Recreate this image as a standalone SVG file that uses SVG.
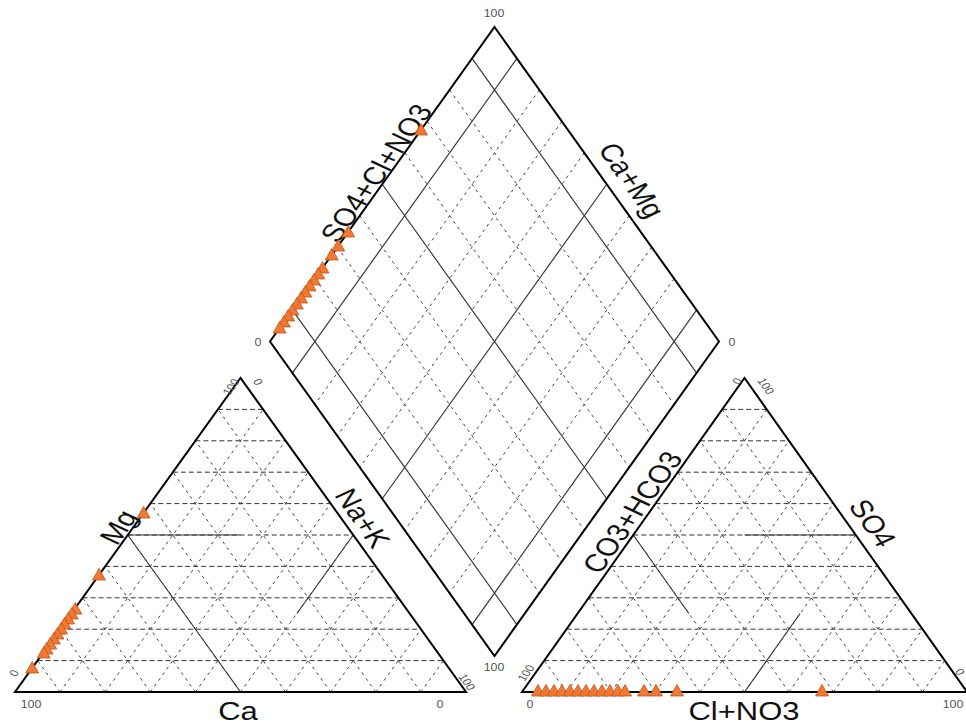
<svg xmlns="http://www.w3.org/2000/svg" width="966" height="724" viewBox="0 0 966 724">
<style>
.frame{fill:none;stroke:#000;stroke-width:2;stroke-linejoin:miter}
.gh{fill:none;stroke:#333;stroke-width:1;stroke-dasharray:5 3}
.gd{fill:none;stroke:#444;stroke-width:1;stroke-dasharray:3 4}
.sol{fill:none;stroke:#3a3a3a;stroke-width:1.2}
.lab{font-family:"Liberation Sans",Arial,sans-serif;font-size:25px;fill:#111;text-anchor:middle}
.num{font-family:"Liberation Sans",Arial,sans-serif;font-size:10px;fill:#555;text-anchor:middle}
.pt{fill:#F07832;stroke:#C0541A;stroke-width:0.8}
</style>
<defs>
<path id="m" d="M-6.5,5L6.5,5L0,-6.5Z"/>
</defs>
<rect width="966" height="724" fill="#fff"/>

<g id="cation-triangle">
<path class="gh" d="M37.55,660.6H443.45M60.1,629.2H420.9M82.65,597.8H398.35M105.2,566.4H375.8M127.75,535H353.25M150.3,503.6H330.7M172.85,472.2H308.15M195.4,440.8H285.6M217.95,409.4H263.05"/>
<path class="gd" d="M60.1,692L263.05,409.4M105.2,692L285.6,440.8M150.3,692L308.15,472.2M195.4,692L330.7,503.6M240.5,692L353.25,535M285.6,692L375.8,566.4M330.7,692L398.35,597.8M375.8,692L420.9,629.2M420.9,692L443.45,660.6"/>
<path class="gd" d="M60.1,692L37.55,660.6M105.2,692L60.1,629.2M150.3,692L82.65,597.8M195.4,692L105.2,566.4M240.5,692L127.75,535M285.6,692L150.3,503.6M330.7,692L172.85,472.2M375.8,692L195.4,440.8M420.9,692L217.95,409.4"/>
<path class="sol" d="M127.75,535H240.5M127.75,535L240.5,692M353.25,535L296.9,613.5"/>
<path class="frame" d="M15,692L466,692L240.5,378Z"/>
</g>

<g id="anion-triangle">
<path class="gh" d="M544.25,660.6H944.75M566.5,629.2H922.5M588.75,597.8H900.25M611,566.4H878M633.25,535H855.75M655.5,503.6H833.5M677.75,472.2H811.25M700,440.8H789M722.25,409.4H766.75"/>
<path class="gd" d="M566.5,692L766.75,409.4M611,692L789,440.8M655.5,692L811.25,472.2M700,692L833.5,503.6M744.5,692L855.75,535M789,692L878,566.4M833.5,692L900.25,597.8M878,692L922.5,629.2M922.5,692L944.75,660.6"/>
<path class="gd" d="M566.5,692L544.25,660.6M611,692L566.5,629.2M655.5,692L588.75,597.8M700,692L611,566.4M744.5,692L633.25,535M789,692L655.5,503.6M833.5,692L677.75,472.2M878,692L700,440.8M922.5,692L722.25,409.4"/>
<path class="sol" d="M744.5,535H855.75M633.25,535L688.9,613.5M744.5,692L800.1,613.5"/>
<path class="frame" d="M522,692L967,692L744.5,378Z"/>
</g>

<g id="diamond">
<path class="gd" d="M539.4,89.9L314.9,404.4M561.85,121.35L337.35,435.85M584.3,152.8L359.8,467.3M629.2,215.7L404.7,530.2M651.65,247.15L427.15,561.65M674.1,278.6L449.6,593.1"/>
<path class="gd" d="M449.6,89.9L674.1,404.4M427.15,121.35L651.65,435.85M404.7,152.8L629.2,467.3M359.8,215.7L584.3,530.2M337.35,247.15L561.85,561.65M314.9,278.6L539.4,593.1"/>
<path class="sol" d="M516.95,58.45L292.45,372.95M606.75,184.25L382.25,498.75M696.55,310.05L472.05,624.55M472.05,58.45L696.55,372.95M382.25,184.25L606.75,498.75M292.45,310.05L516.95,624.55"/>
<path class="frame" d="M494.5,27L719,341.5L494.5,656L270,341.5Z"/>
</g>

<g id="axis-labels">
<text class="lab" transform="translate(238,711) scale(1.24,1)" y="9">Ca</text>
<text class="lab" transform="translate(118,527) scale(1.24,1) rotate(-60)" y="9">Mg</text>
<text class="lab" transform="translate(363,518) scale(1.24,1) rotate(60)" y="9">Na+K</text>
<text class="lab" transform="translate(744,711) scale(1.24,1)" y="9">Cl+NO3</text>
<text class="lab" transform="translate(873,523) scale(1.24,1) rotate(60)" y="9">SO4</text>
<text class="lab" transform="translate(632,512) scale(1.24,1) rotate(-60)" y="9">CO3+HCO3</text>
<text class="lab" transform="translate(376,173) scale(1.24,1) rotate(-60)" y="9">SO4+Cl+NO3</text>
<text class="lab" transform="translate(632,180) scale(1.24,1) rotate(60)" y="9">Ca+Mg</text>
</g>

<g id="tick-labels">
<text class="num" transform="translate(494,13) scale(1.24,1)" y="3.5">100</text>
<text class="num" transform="translate(258,342) scale(1.24,1)" y="3.5">0</text>
<text class="num" transform="translate(732,342) scale(1.24,1)" y="3.5">0</text>
<text class="num" transform="translate(494,667) scale(1.24,1)" y="3.5">100</text>
<text class="num" transform="translate(231,387) scale(1.24,1) rotate(-60)" y="3.5">100</text>
<text class="num" transform="translate(258,382) scale(1.24,1) rotate(60)" y="3.5">0</text>
<text class="num" transform="translate(14,673) scale(1.24,1) rotate(-60)" y="3.5">0</text>
<text class="num" transform="translate(31,704) scale(1.24,1)" y="3.5">100</text>
<text class="num" transform="translate(440,704) scale(1.24,1)" y="3.5">0</text>
<text class="num" transform="translate(467,682) scale(1.24,1) rotate(60)" y="3.5">100</text>
<text class="num" transform="translate(737,381) scale(1.24,1) rotate(-60)" y="3.5">0</text>
<text class="num" transform="translate(766,386) scale(1.24,1) rotate(60)" y="3.5">100</text>
<text class="num" transform="translate(526,673) scale(1.24,1) rotate(-60)" y="3.5">100</text>
<text class="num" transform="translate(530,704) scale(1.24,1)" y="3.5">0</text>
<text class="num" transform="translate(953,704) scale(1.24,1)" y="3.5">100</text>
<text class="num" transform="translate(960,672) scale(1.24,1) rotate(60)" y="3.5">0</text>
</g>

<g id="samples">
<use href="#m" class="pt" x="143.6" y="513"/>
<use href="#m" class="pt" x="99" y="575"/>
<use href="#m" class="pt" x="75.3" y="609"/>
<use href="#m" class="pt" x="71.7" y="614"/>
<use href="#m" class="pt" x="68.1" y="619"/>
<use href="#m" class="pt" x="64.5" y="624"/>
<use href="#m" class="pt" x="61" y="629"/>
<use href="#m" class="pt" x="57.4" y="634"/>
<use href="#m" class="pt" x="53.8" y="639"/>
<use href="#m" class="pt" x="50.2" y="644"/>
<use href="#m" class="pt" x="46.6" y="649"/>
<use href="#m" class="pt" x="43.7" y="653"/>
<use href="#m" class="pt" x="32.2" y="668"/>

<use href="#m" class="pt" x="421" y="130"/>
<use href="#m" class="pt" x="348.2" y="232"/>
<use href="#m" class="pt" x="338.2" y="246"/>
<use href="#m" class="pt" x="331.7" y="255"/>
<use href="#m" class="pt" x="322.5" y="268"/>
<use href="#m" class="pt" x="318.2" y="274"/>
<use href="#m" class="pt" x="313.9" y="280"/>
<use href="#m" class="pt" x="309.6" y="286"/>
<use href="#m" class="pt" x="305.3" y="292"/>
<use href="#m" class="pt" x="301" y="298"/>
<use href="#m" class="pt" x="296.8" y="304"/>
<use href="#m" class="pt" x="292.5" y="310"/>
<use href="#m" class="pt" x="288.2" y="316"/>
<use href="#m" class="pt" x="283.9" y="322"/>
<use href="#m" class="pt" x="279.6" y="328"/>

<use href="#m" class="pt" x="538" y="691"/>
<use href="#m" class="pt" x="546" y="691"/>
<use href="#m" class="pt" x="554" y="691"/>
<use href="#m" class="pt" x="562" y="691"/>
<use href="#m" class="pt" x="570" y="691"/>
<use href="#m" class="pt" x="578" y="691"/>
<use href="#m" class="pt" x="586" y="691"/>
<use href="#m" class="pt" x="594" y="691"/>
<use href="#m" class="pt" x="602" y="691"/>
<use href="#m" class="pt" x="610" y="691"/>
<use href="#m" class="pt" x="618" y="691"/>
<use href="#m" class="pt" x="625" y="691"/>
<use href="#m" class="pt" x="644" y="691"/>
<use href="#m" class="pt" x="656" y="691"/>
<use href="#m" class="pt" x="677" y="691"/>
<use href="#m" class="pt" x="822" y="691"/>
</g>
</svg>
